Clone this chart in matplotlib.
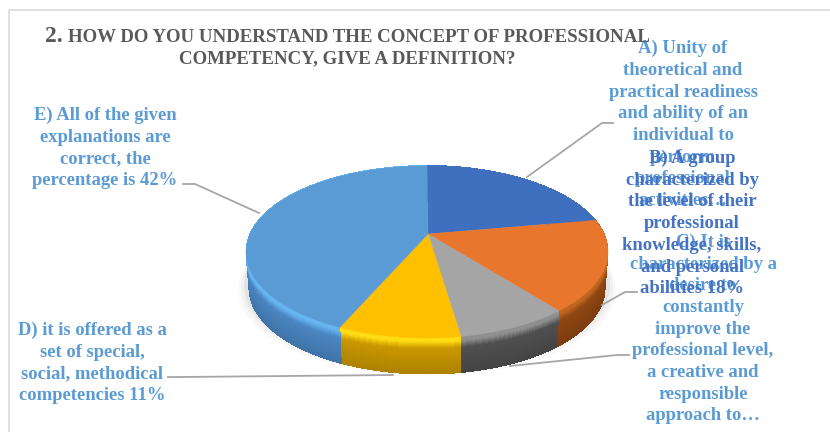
import numpy as np
import matplotlib.pyplot as plt
import matplotlib.colors as mcolors

plt.rcParams['font.family'] = ['Liberation Serif', 'DejaVu Serif']

# Answer shares, clockwise from twelve o'clock
categories = ['A', 'B', 'C', 'D', 'E']
values = [19, 18, 10, 11, 42]
top_colors = ['#3f70bf', '#e8772d', '#a5a5a5', '#ffc000', '#5b9bd5']
side_colors = ['#2f5597', '#8f4612', '#4f4f4f', '#c99700', '#4a86c2']
edge_colors = ['#4472c4', '#c0651f', '#8f8f8f', '#ffdc14', '#66b4f0']

label_a = "A) Unity of\ntheoretical and\npractical readiness\nand ability of an\nindividual to\nperform\nprofessional\nactivities…"
label_b = "B) A group\ncharacterized by\nthe level of their\nprofessional\nknowledge, skills,\nand personal\nabilities 18%"
label_c = "C) It is\ncharacterized by a\ndesire to\nconstantly\nimprove the\nprofessional level,\na creative and\nresponsible\napproach to…"
label_d = "D) it is offered as a\nset of special,\nsocial, methodical\ncompetencies 11%"
label_e = "E) All of the given\nexplanations are\ncorrect, the\npercentage is 42%"

title_line1 = "HOW DO YOU UNDERSTAND THE CONCEPT OF PROFESSIONAL"
title_line2 = "COMPETENCY, GIVE A DEFINITION?"

# Pie geometry in figure pixels
cx, cy = 427, 252
rx, ry = 181, 86
apex = (428, 234)
depth = 36

fig = plt.figure(figsize=(8.3, 4.32), dpi=100)
ax = fig.add_axes([0, 0, 1, 1])
ax.set_xlim(0, 830)
ax.set_ylim(432, 0)
ax.axis('off')

# Chart frame, only the left and top edges are in view
ax.plot([9, 9, 830], [432, 10, 10], color='#d9d9d9', lw=1.2)


def rim(theta, shrink=0.0, drop=0.0):
    x = cx + (rx - shrink) * np.sin(theta)
    y = cy - ry * np.cos(theta) + drop
    return x, y


# Soft shadow under the disc
t = np.linspace(0, 2 * np.pi, 200)
for grow, alpha in zip([8, 5, 2], [0.025, 0.03, 0.05]):
    ax.fill(*rim(t, -grow, depth - 4 + grow * 0.7), color='black', alpha=alpha, lw=0)

edges = np.radians(np.concatenate([[0], np.cumsum(values)]) * 3.6)

# Side wall, drawn in thin bands from the bottom up
for d in np.arange(depth, 0, -1.0):
    frac = d / depth
    for i in range(len(values)):
        t = np.linspace(edges[i], edges[i + 1], 60)
        edge = np.array(mcolors.to_rgb(edge_colors[i]))
        side = np.array(mcolors.to_rgb(side_colors[i]))
        if frac < 0.1:
            col = edge
        elif frac < 0.3:
            mix = (frac - 0.1) / 0.2
            col = edge * (1 - mix) + side * mix
        else:
            col = side * (1 - 0.2 * (frac - 0.3))
        x1, y1 = rim(t, 3 * frac, d)
        x0, y0 = rim(t[::-1], 3 * frac, d - 1.5)
        ax.fill(np.r_[x1, x0], np.r_[y1, y0], color=col, lw=0, antialiased=False)

# Top surface, every wedge runs from the apex out to the rim
for i in range(len(values)):
    t = np.linspace(edges[i], edges[i + 1], 80)
    x, y = rim(t)
    ax.fill(np.r_[apex[0], x], np.r_[apex[1], y], color=top_colors[i], ec=top_colors[i], lw=0.3)

# Leader lines
leaders = [
    ([527, 602, 613], [177, 123, 123]),
    ([602, 625, 637], [305, 292, 292]),
    ([510, 617, 629], [366, 355, 355]),
    ([393, 180, 168], [375, 377, 377]),
    ([259, 195, 183], [213, 184, 184]),
]
for xs, ys in leaders:
    ax.plot(xs, ys, color='#a6a6a6', lw=1.3, solid_joinstyle='round')

label_style = dict(ha='center', va='center', multialignment='center',
                   fontsize=13.4, fontweight='bold', linespacing=1.36)
ax.text(683, 124.5, label_a, color='#5b9bd5', **label_style)
ax.text(703, 329, label_c, color='#5b9bd5', **label_style)
ax.text(692, 223.5, label_b, color='#4472c4', **label_style)
ax.text(92, 363, label_d, color='#5b9bd5', **label_style)
ax.text(105, 148, label_e, color='#5b9bd5', **label_style)

ax.text(45, 42, "2.", color='#595959', fontsize=17, fontweight='bold', va='baseline')
ax.text(68, 42, title_line1, color='#595959', fontsize=13.6, fontweight='bold', va='baseline')
ax.text(347, 63, title_line2, color='#595959', fontsize=13.6, fontweight='bold', va='baseline', ha='center')

fig.savefig('out.png', dpi=100)
